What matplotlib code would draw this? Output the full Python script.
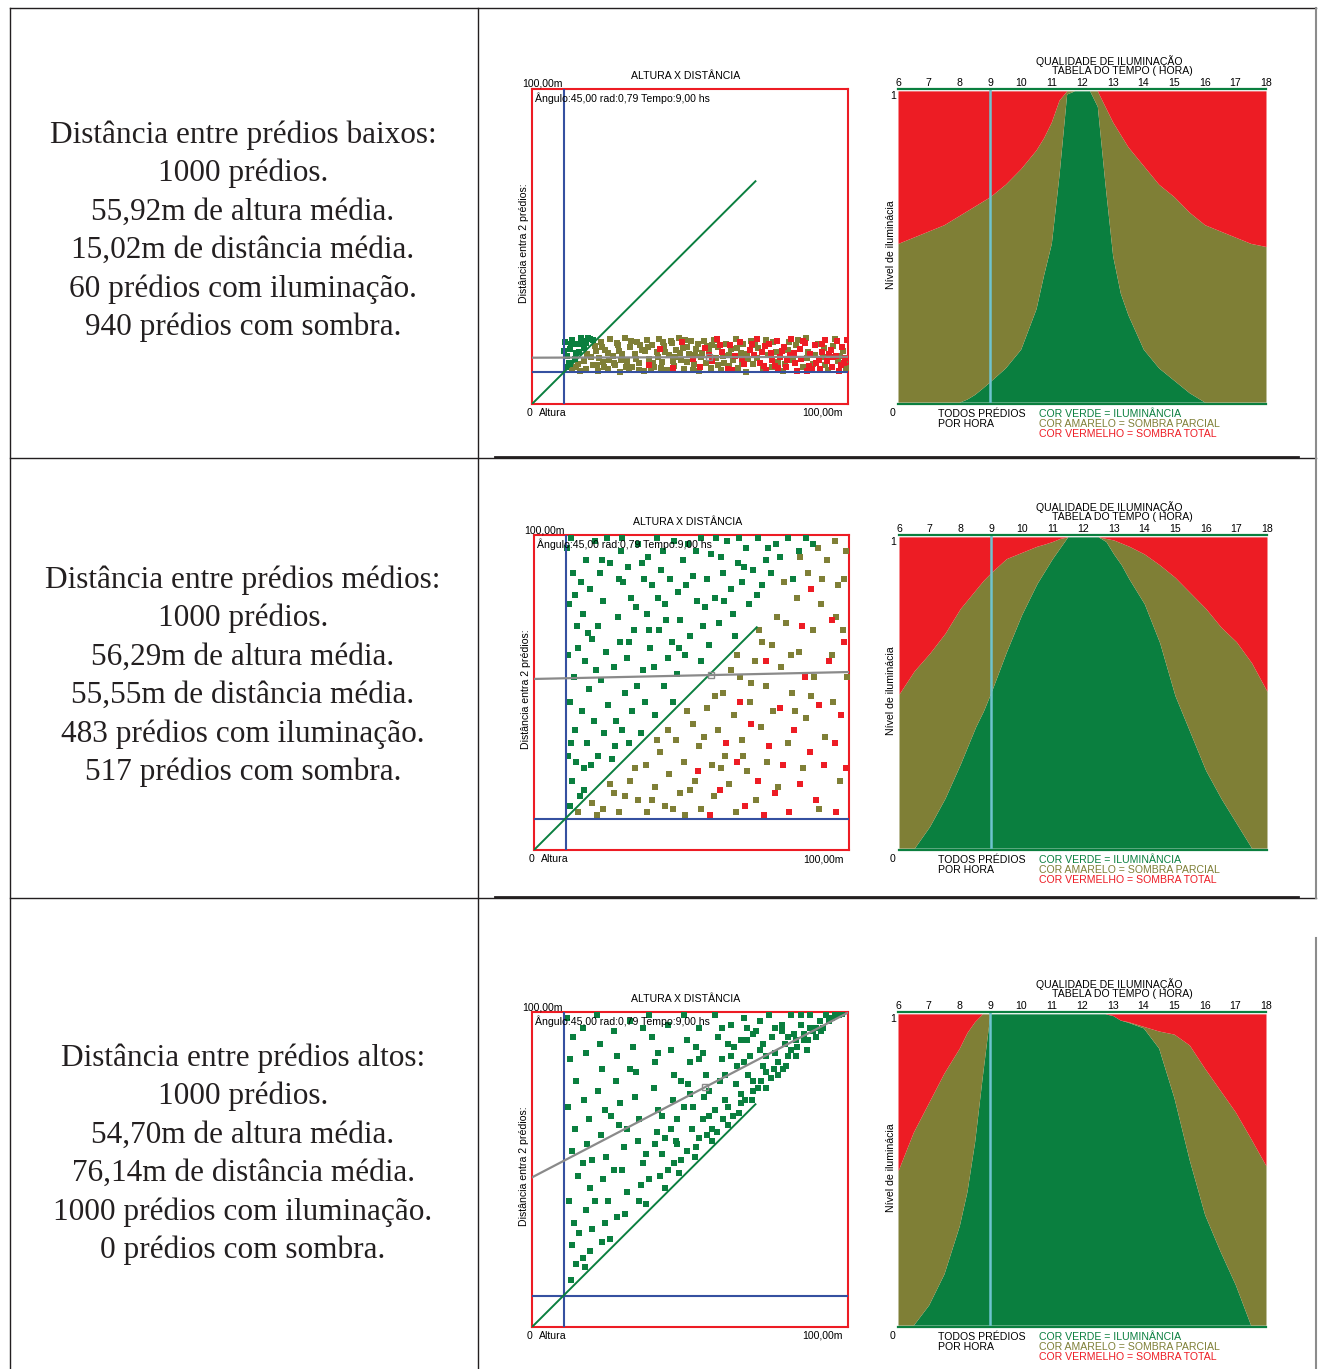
import numpy as np
import matplotlib
matplotlib.use("Agg")
import matplotlib.pyplot as plt

# ---------------------------------------------------------------- data
row_texts = [
    ["Distância entre prédios baixos:", "1000 prédios.", "55,92m de altura média.",
     "15,02m de distância média.", "60 prédios com iluminação.", "940 prédios com sombra."],
    ["Distância entre prédios médios:", "1000 prédios.", "56,29m de altura média.",
     "55,55m de distância média.", "483 prédios com iluminação.", "517 prédios com sombra."],
    ["Distância entre prédios altos:", "1000 prédios.", "54,70m de altura média.",
     "76,14m de distância média.", "1000 prédios com iluminação.", "0 prédios com sombra."],
]

mean_height = [55.92, 56.29, 54.70]
mean_dist = [15.02, 55.55, 76.14]
trend_at_0 = [14.7, 54.3, 47.5]
trend_at_100 = [15.0, 56.5, 99.8]
min_height = 10
min_dist = 10
sun_angle = 45.0

hours = [6, 6.5, 7, 7.5, 8, 8.25, 8.5, 8.75, 9, 9.5, 10, 10.5, 10.75, 11, 11.25, 11.5,
         11.75, 12, 12.25, 12.5, 12.75, 13, 13.25, 13.5, 14, 14.5, 15, 15.5, 16, 16.5,
         17, 17.5, 18]

lit_low = [0, 0, 0, 0, 0, 0.01, 0.025, 0.045, 0.066, 0.11, 0.17, 0.30, 0.41, 0.51, 0.73, 0.99,
           1, 1, 1, 0.95, 0.70, 0.47, 0.35, 0.28, 0.17, 0.11, 0.07, 0.03, 0, 0, 0, 0, 0]
part_low = [0.51, 0.53, 0.55, 0.57, 0.60, 0.615, 0.63, 0.645, 0.66, 0.70, 0.75, 0.81, 0.85,
            0.90, 0.97, 1, 1, 1, 1, 1, 0.95, 0.90, 0.86, 0.82, 0.76, 0.70, 0.66, 0.61, 0.57,
            0.55, 0.53, 0.51, 0.50]

lit_mid = [0, 0, 0.07, 0.16, 0.27, 0.33, 0.39, 0.44, 0.50, 0.63, 0.75, 0.85, 0.89, 0.93, 0.965,
           1, 1, 1, 1, 1, 0.985, 0.945, 0.91, 0.865, 0.785, 0.66, 0.49, 0.37, 0.25, 0.16,
           0.08, 0, 0]
part_mid = [0.495, 0.57, 0.626, 0.69, 0.77, 0.80, 0.83, 0.86, 0.885, 0.93, 0.95, 0.97, 0.977,
            0.985, 0.995, 1, 1, 1, 1, 1, 0.995, 0.99, 0.98, 0.97, 0.945, 0.91, 0.87, 0.82,
            0.77, 0.71, 0.663, 0.595, 0.504]

lit_high = [0, 0, 0.065, 0.165, 0.32, 0.43, 0.59, 0.80, 1, 1, 1, 1, 1, 1, 1, 1, 1, 1, 1, 1, 1,
            0.995, 0.98, 0.973, 0.955, 0.89, 0.73, 0.53, 0.355, 0.238, 0.13, 0, 0]
part_high = [0.496, 0.62, 0.715, 0.81, 0.89, 0.94, 0.975, 1, 1, 1, 1, 1, 1, 1, 1, 1, 1, 1, 1,
             1, 1, 0.995, 0.98, 0.975, 0.96, 0.945, 0.935, 0.90, 0.825, 0.755, 0.685, 0.60,
             0.512]

# buildings: (altura, distancia)
low_lit = [(10.5, 19.8), (11.2, 15.3), (12.0, 17.6), (12.8, 20.4), (13.5, 14.2), (14.1, 18.9),
           (14.9, 16.5), (15.6, 20.8), (16.3, 17.9), (17.1, 19.5), (17.8, 21.0), (11.7, 13.1),
           (10.2, 16.8), (11.9, 12.6), (15.2, 19.2), (16.8, 20.1), (18.5, 20.6), (12.4, 19.0),
           (10.8, 11.9), (13.9, 16.1), (19.3, 20.2)]
low_part = [(12.5, 10.8), (13.8, 11.9), (15.1, 10.4), (16.4, 13.6), (17.2, 11.2), (18.6, 14.8),
            (19.4, 12.3), (20.3, 16.9), (20.9, 10.6), (21.7, 19.8), (22.4, 13.4), (23.2, 17.2),
            (23.9, 11.1), (24.8, 20.5), (25.5, 15.1), (26.3, 12.4), (27.1, 18.6), (27.8, 10.3),
            (28.6, 16.0), (29.4, 20.9), (30.2, 13.7), (30.9, 18.1), (31.7, 11.6), (32.5, 15.9),
            (33.3, 19.7), (34.0, 12.9), (34.8, 17.3), (35.6, 10.5), (36.4, 20.2), (37.1, 14.4),
            (37.9, 18.8), (38.7, 11.8), (39.5, 16.6), (40.3, 20.6), (41.0, 13.2), (41.8, 18.4),
            (42.6, 10.9), (43.4, 15.4), (44.2, 19.3), (45.0, 12.0), (45.7, 17.0), (46.5, 20.8),
            (47.3, 14.1), (48.1, 11.0), (48.9, 18.2), (49.6, 15.8), (50.4, 20.1), (51.2, 12.6),
            (52.0, 17.6), (52.8, 10.4), (53.6, 14.9), (54.3, 19.9), (55.1, 13.0), (55.9, 16.8),
            (56.7, 11.3), (57.5, 20.4), (58.3, 14.6), (59.0, 18.0), (59.8, 10.7), (60.6, 15.3),
            (61.4, 19.1), (62.2, 12.2), (63.0, 17.4), (63.7, 13.9), (64.5, 20.7), (65.3, 11.5),
            (66.1, 16.2), (66.9, 18.9), (67.7, 10.3), (68.4, 14.3), (69.2, 20.0), (70.0, 12.7),
            (71.6, 17.8), (73.1, 11.0), (74.7, 15.6), (76.3, 19.6), (77.9, 13.3), (79.4, 10.5),
            (81.0, 17.1), (82.6, 14.0), (84.2, 20.3), (85.8, 11.9), (87.3, 16.4), (88.9, 12.8),
            (90.5, 19.0), (92.1, 15.0), (93.6, 10.8), (95.2, 18.3), (96.8, 13.5), (98.4, 16.9),
            (99.5, 11.4), (21.2, 14.6), (24.1, 16.2), (26.9, 19.4), (29.8, 11.9), (32.9, 14.3),
            (35.9, 16.7), (38.2, 13.0), (40.8, 11.5), (43.9, 20.0), (46.9, 16.1), (49.2, 13.3),
            (52.4, 19.0), (22.9, 11.8), (25.9, 13.0), (28.1, 14.0), (31.3, 19.9), (33.8, 10.9),
            (36.8, 18.1), (39.9, 14.9), (42.2, 16.5), (44.6, 13.8), (47.8, 17.9), (50.8, 10.9),
            (53.9, 16.2), (57.1, 18.7), (60.9, 13.1), (64.8, 17.9), (68.1, 15.9), (71.2, 14.7),
            (74.0, 20.4), (77.2, 16.6), (80.1, 12.6), (83.5, 18.7), (86.7, 20.8), (89.6, 15.6),
            (92.6, 12.3), (95.8, 20.6), (98.9, 14.1), (17.5, 16.0), (19.9, 18.3), (14.5, 12.8),
            (20.6, 12.4), (22.1, 18.0), (24.5, 13.9), (27.4, 16.9), (30.6, 11.0), (34.3, 18.6),
            (37.5, 11.2), (41.4, 19.7), (45.3, 15.0), (48.5, 20.3), (51.6, 15.5), (55.4, 18.3),
            (58.9, 12.3), (62.5, 15.6), (66.4, 12.9), (70.7, 18.8), (75.8, 11.7), (81.4, 19.6),
            (87.0, 14.7), (92.3, 17.8), (97.4, 15.2)]
low_dark = [(36.9, 12.5), (40.6, 17.6), (44.7, 11.4), (47.6, 19.6), (50.9, 14.2), (53.2, 11.9),
            (54.8, 17.9), (57.0, 13.8), (58.7, 20.5), (60.1, 16.4), (61.9, 11.1), (62.7, 18.6),
            (64.1, 15.1), (65.8, 19.8), (67.2, 12.6), (68.9, 17.0), (70.4, 15.7), (71.1, 20.6),
            (72.3, 13.1), (73.8, 18.4), (74.2, 10.9), (75.5, 16.3), (76.9, 12.2), (77.4, 20.0),
            (78.6, 14.8), (79.9, 18.1), (80.4, 11.6), (81.7, 15.4), (82.1, 20.7), (83.3, 12.9),
            (84.8, 17.5), (85.2, 14.2), (86.4, 19.3), (86.9, 10.6), (88.1, 15.9), (89.5, 18.7),
            (89.9, 13.0), (91.2, 11.2), (91.7, 16.6), (92.8, 20.2), (93.3, 13.7), (94.5, 17.2),
            (94.9, 11.7), (96.1, 15.3), (96.4, 19.9), (97.7, 12.4), (98.0, 18.0), (99.2, 14.6),
            (99.6, 20.4), (80.8, 13.9), (83.9, 10.4), (87.6, 12.1), (90.8, 14.1), (93.9, 16.0),
            (97.2, 10.5), (75.0, 19.0), (78.0, 11.4), (72.8, 16.5), (69.6, 19.1), (66.5, 14.4),
            (63.4, 10.8), (59.4, 18.8), (56.0, 15.5), (82.9, 16.3), (85.9, 20.1), (88.6, 11.0),
            (91.9, 18.9), (95.3, 14.9), (98.6, 12.9), (79.2, 16.9), (76.0, 14.0), (73.4, 12.0)]

mid_lit = [(10.5, 96), (12.3, 88), (11.0, 78), (13.8, 71), (10.8, 62), (12.6, 55), (11.4, 47),
           (13.1, 38), (10.9, 30), (12.2, 22), (14.5, 17), (15.8, 26), (16.9, 34), (15.1, 44),
           (17.6, 51), (16.2, 60), (18.4, 67), (15.7, 75), (17.9, 83), (16.5, 92), (19.3, 98),
           (20.8, 88), (21.9, 79), (20.2, 71), (22.7, 63), (21.3, 54), (23.6, 46), (22.1, 37),
           (24.8, 29), (26.1, 41), (25.4, 58), (27.3, 66), (26.6, 74), (28.2, 85), (27.5, 95),
           (29.9, 90), (30.7, 80), (31.8, 70), (29.4, 61), (32.6, 52), (31.1, 44), (33.9, 37),
           (35.2, 47), (34.5, 57), (36.8, 64), (35.9, 75), (37.6, 84), (36.2, 93), (39.1, 99),
           (40.3, 89), (41.5, 78), (39.8, 70), (42.6, 61), (41.2, 52), (44.1, 47), (45.3, 56),
           (43.7, 66), (46.5, 73), (45.8, 82), (47.2, 92), (49.0, 97), (50.4, 87), (51.7, 79),
           (49.6, 68), (52.9, 60), (53.5, 71), (54.8, 86), (56.1, 94), (57.4, 80), (58.6, 72),
           (59.9, 88), (61.2, 98), (62.5, 83), (63.1, 75), (64.7, 91), (66.0, 85), (67.3, 96),
           (68.1, 78), (69.5, 89), (71.0, 99), (72.4, 84), (73.6, 92), (75.2, 88), (76.8, 97),
           (78.1, 93), (80.5, 99), (82.3, 86), (84.0, 95), (86.2, 99), (88.5, 97), (18.9, 41),
           (14.0, 64), (24.0, 91), (33.0, 97), (44.5, 98), (38.4, 43), (28.8, 50), (11.6, 99),
           (14.9, 85), (19.8, 57), (23.3, 99), (30.1, 34), (35.0, 86), (40.9, 95), (47.9, 62),
           (55.6, 65), (60.4, 79), (65.2, 99), (70.8, 81), (11.3, 14), (13.3, 28), (16.0, 19),
           (20.4, 30), (25.8, 33), (28.0, 99), (32.4, 77), (38.0, 58), (43.1, 86), (51.3, 95),
           (57.9, 99), (63.9, 68), (12.9, 81), (17.2, 69), (21.6, 92), (26.9, 86), (30.3, 66),
           (34.2, 91), (39.5, 80), (42.0, 73), (48.3, 84), (53.1, 99), (59.3, 93), (66.8, 90),
           (74.4, 96), (11.9, 34), (18.1, 27), (27.9, 38), (36.4, 70), (46.0, 64), (54.3, 77)]
mid_part = [(14.0, 12), (18.5, 15), (22.0, 13), (25.5, 18), (27.0, 12), (30.5, 22), (33.0, 16),
            (35.5, 27), (36.0, 12), (38.5, 20), (40.0, 31), (41.5, 14), (43.0, 24), (45.0, 35),
            (46.5, 18), (47.5, 28), (48.0, 11), (50.5, 40), (51.0, 22), (52.5, 33), (53.0, 13),
            (55.0, 45), (56.5, 27), (57.0, 17), (58.5, 38), (60.0, 50), (60.5, 30), (62.0, 21),
            (63.5, 43), (64.0, 12), (65.5, 55), (66.0, 35), (67.5, 25), (68.5, 47), (70.0, 60),
            (70.5, 16), (72.0, 39), (73.5, 52), (74.0, 28), (75.5, 65), (76.0, 44), (77.5, 20),
            (78.5, 58), (80.0, 72), (80.5, 34), (82.0, 50), (83.5, 80), (84.0, 63), (85.5, 26),
            (86.5, 42), (87.0, 88), (88.5, 70), (89.0, 55), (90.5, 13), (91.0, 78), (92.5, 36),
            (93.0, 92), (94.5, 62), (95.0, 47), (96.5, 84), (97.0, 22), (98.0, 70), (99.0, 95),
            (99.5, 55), (84.5, 93), (90.0, 96), (79.5, 85), (71.5, 70), (62.5, 57), (20.0, 11),
            (29.0, 17), (32.0, 26), (39.0, 35), (44.0, 13), (49.5, 19), (54.0, 36), (59.5, 26),
            (66.5, 30), (69.0, 53), (77.0, 74), (81.5, 62), (88.0, 49), (96.0, 74), (98.5, 86),
            (24.0, 21), (37.5, 16), (42.5, 38), (48.5, 44), (57.5, 49), (64.5, 62), (72.5, 66),
            (83.0, 44), (91.5, 86), (95.5, 98)]
mid_dark = [(52.0, 25), (56.0, 11), (59.0, 19), (61.0, 34), (64.5, 28), (67.0, 14), (69.0, 40),
            (71.0, 22), (73.0, 11), (74.5, 33), (76.5, 18), (78.0, 45), (79.0, 27), (81.0, 12),
            (82.5, 38), (84.5, 21), (86.0, 55), (87.5, 31), (89.5, 16), (90.5, 46), (92.0, 27),
            (93.5, 60), (95.5, 34), (96.0, 12), (97.5, 43), (98.5, 66), (99.0, 26), (94.5, 73),
            (85.0, 71), (88.0, 83), (73.5, 60), (65.5, 47)]

high_lit = [(11, 98), (13, 92), (12, 85), (14, 78), (11.5, 70), (13.5, 63), (12.5, 56), (14.5, 48),
            (11.8, 40), (13.2, 33), (12.8, 26), (14.0, 20), (12.2, 15), (16, 95), (17, 87),
            (16.5, 72), (18, 66), (17.5, 58), (16, 52), (18.5, 44), (17, 37), (19, 31), (18.2, 24),
            (16.8, 19), (20.5, 99), (21.5, 90), (22, 82), (20.8, 75), (23, 69), (21.8, 61),
            (23.5, 54), (22.5, 47), (24, 40), (23.2, 33), (24.8, 28), (26, 94), (27, 86),
            (26.5, 78), (28, 71), (27.5, 64), (29, 57), (28.5, 50), (30, 43), (29.5, 36), (31, 97),
            (32, 89), (33, 81), (32.5, 73), (34, 66), (33.5, 59), (35, 52), (34.5, 45), (36, 39),
            (37, 99), (38, 92), (39, 84), (38.5, 76), (40, 69), (39.5, 62), (41, 55), (40.5, 48),
            (42, 44), (43, 96), (44, 88), (45, 80), (44.5, 72), (46, 66), (45.5, 59), (47, 53),
            (46.5, 49), (48, 99), (49, 91), (50, 84), (49.5, 77), (51, 70), (50.5, 63), (52, 57),
            (51.5, 54), (53, 95), (54, 87), (55, 80), (54.5, 73), (56, 67), (55.5, 61), (57, 59),
            (58, 99), (59, 92), (60, 85), (59.5, 78), (61, 72), (60.5, 66), (62, 64), (63, 96),
            (64, 89), (65, 83), (64.5, 77), (66, 71), (65.5, 68), (67, 98), (68, 91), (69, 86),
            (68.5, 80), (70, 75), (69.5, 72), (71, 94), (72, 88), (73, 83), (72.5, 78), (74, 76),
            (75, 99), (76, 92), (77, 87), (76.5, 82), (78, 80), (79, 96), (80, 90), (81, 86),
            (80.5, 83), (82, 99), (83, 93), (84, 89), (83.5, 86), (85, 96), (86, 91), (87, 88),
            (88, 99), (89, 94), (90, 92), (91, 97), (92, 95), (93, 99), (94, 97), (95, 98),
            (96, 99), (97, 99), (98, 99.5), (62, 70), (66, 74), (70, 78), (74, 81), (78, 84),
            (82, 88), (86, 93), (90, 95), (57, 63), (53, 60), (49, 56), (45, 52), (61, 80),
            (67, 84), (73, 90), (79, 94), (85, 99), (56, 75), (63, 86), (70, 93), (48, 70),
            (42, 60), (36, 55), (30, 63), (26, 50), (20, 40), (58.5, 62), (63.5, 67), (67.5, 72),
            (71.5, 76), (75.5, 79), (79.5, 82), (83.5, 91), (87.5, 91), (91.5, 94), (60, 95),
            (66, 91), (72, 97), (77, 95), (54, 66), (50, 74), (46, 58), (41, 67), (37, 47),
            (44, 63), (52, 89), (15, 30), (19, 53), (25, 67), (31, 82), (35, 95), (40, 87),
            (47, 78), (53, 85), (58, 69), (62, 90), (68, 95), (74, 86), (81, 92), (88, 95),
            (43, 50), (39, 58), (34, 40), (27, 35), (22, 27), (16, 22)]

# ---------------------------------------------------------------- style
W, H = 1320, 1369
RED = "#ED1C24"
OLIVE = "#7F7F36"
GREEN = "#0A7F3F"
BLUE = "#3550A0"
CYAN = "#6FC3CF"
GREY = "#8A8A8A"
INK = "#231F20"
SANS = "Liberation Sans"
SERIF = "Liberation Serif"
SMALL = 7.6

fig = plt.figure(figsize=(W / 100, H / 100), dpi=100)
fig.patch.set_facecolor("white")


def box(x0, y0, x1, y1):
    """pixel rectangle (top-left origin) -> figure fraction rect"""
    return [x0 / W, 1 - y1 / H, (x1 - x0) / W, (y1 - y0) / H]


def ftext(x, y, s, **kw):
    kw.setdefault("fontfamily", SANS)
    kw.setdefault("fontsize", SMALL)
    kw.setdefault("va", "center")
    fig.text(x / W, 1 - y / H, s, **kw)


# table grid drawn on a full-figure axes in pixel units
grid = fig.add_axes([0, 0, 1, 1], zorder=-5)
grid.set_xlim(0, W)
grid.set_ylim(H, 0)
grid.axis("off")
grid.plot([10, 1316], [8, 8], color=INK, lw=1)
grid.plot([10, 10], [8, H], color=INK, lw=1)
grid.plot([478, 478], [8, H], color=INK, lw=1)
for yy in [458, 898]:
    grid.plot([10, 1316], [yy, yy], color=INK, lw=1)
    grid.plot([495, 1298], [yy - 1, yy - 1], color=INK, lw=2)
grid.plot([1316, 1316], [8, 898], color="#8c8c8c", lw=1.5)
grid.plot([1316, 1316], [938, H], color="#8c8c8c", lw=1.5)

row_offsets = [0, 446, 923]
text_tops = [135, 580, 1058]
scatter_x = [(532, 848), (534, 849), (532, 848)]
area_x = [(898, 1266), (899, 1267), (898, 1266)]
lit_sets = [low_lit, mid_lit, high_lit]
part_sets = [low_part, mid_part, []]
dark_sets = [low_dark, mid_dark, []]
lit_curves = [lit_low, lit_mid, lit_high]
part_curves = [part_low, part_mid, part_high]

for r in range(3):
    off = row_offsets[r]

    # left column text
    for i, line in enumerate(row_texts[r]):
        ftext(243, text_tops[r] + i * 38.5, line, fontfamily=SERIF, fontsize=22.5,
              ha="center", color=INK)

    # ---------------- scatter: altura x distancia
    sx0, sx1 = scatter_x[r]
    ax = fig.add_axes(box(sx0, 89 + off, sx1, 404 + off))
    ax.set_xlim(0, 100)
    ax.set_ylim(0, 100)
    ax.set_xticks([])
    ax.set_yticks([])
    for sp in ax.spines.values():
        sp.set_color(RED)
        sp.set_linewidth(1.5)
    for pts, col in [(part_sets[r], OLIVE), (dark_sets[r], RED), (lit_sets[r], GREEN)]:
        if pts:
            xs, ys = zip(*pts)
            ax.scatter(xs, ys, s=15, marker="s", color=col, lw=0, zorder=3)
    ax.axvline(min_height, color=BLUE, lw=1.5, zorder=4)
    ax.axhline(min_dist, color=BLUE, lw=1.5, zorder=4)
    reach = 100 * np.sin(np.radians(sun_angle))
    ax.plot([0, reach], [0, reach], color=GREEN, lw=1.4, zorder=5)
    ax.plot([0, 100], [trend_at_0[r], trend_at_100[r]], color=GREY, lw=1.6, zorder=5)
    ax.plot([mean_height[r]], [mean_dist[r]], marker="s", ms=5, mfc="none", mec=GREY,
            mew=1, zorder=6)

    cx = (sx0 + sx1) / 2
    ftext(cx - 4, 76 + off, "ALTURA X DISTÂNCIA", ha="center")
    ftext(sx0 - 10, 84 + off, "100,00m", ha="left")
    ftext(sx0 + 3, 98 + off, "Ângulo:45,00 rad:0,79 Tempo:9,00 hs", ha="left", zorder=10)
    ftext(sx0 - 5, 413 + off, "0", ha="left")
    ftext(sx0 + 7, 413 + off, "Altura", ha="left")
    ftext(sx1 - 5, 413 + off, "100,00m", ha="right")
    ftext(sx0 - 8, 243 + off, "Distância entra 2 prédios:", ha="center", rotation=90)

    # ---------------- area: qualidade de iluminacao
    ax0, ax1 = area_x[r]
    ab = fig.add_axes(box(ax0, 89 + off, ax1, 404 + off))
    ab.fill_between(hours, 0, lit_curves[r], color=GREEN, lw=0)
    ab.fill_between(hours, lit_curves[r], part_curves[r], color=OLIVE, lw=0)
    ab.fill_between(hours, part_curves[r], 1, color=RED, lw=0)
    ab.axvline(9, color=CYAN, lw=1.8)
    ab.set_xlim(6, 18)
    ab.set_ylim(-0.006, 1.006)
    ab.set_yticks([])
    ab.xaxis.tick_top()
    ab.set_xticks(range(6, 19))
    ab.set_xticklabels([str(h) for h in range(6, 19)], fontfamily=SANS, fontsize=SMALL)
    ab.tick_params(axis="x", length=0, pad=0.5)
    for side in ["left", "right"]:
        ab.spines[side].set_visible(False)
    for side in ["top", "bottom"]:
        ab.spines[side].set_color(GREEN)
        ab.spines[side].set_linewidth(1.6)

    ftext(1109, 61 + off, "QUALIDADE DE ILUMINAÇÃO", ha="center")
    ftext(1122, 71 + off, "TABELA DO TEMPO ( HORA)", ha="center")
    ftext(893, 96 + off, "1", ha="center")
    ftext(893, 413 + off, "0", ha="center")
    ftext(891, 245 + off, "Nível de iluminácia", ha="center", rotation=90)
    ftext(938, 414 + off, "TODOS PRÉDIOS", ha="left")
    ftext(938, 424 + off, "POR HORA", ha="left")
    ftext(1039, 414 + off, "COR VERDE = ILUMINÂNCIA", ha="left", color=GREEN)
    ftext(1039, 424 + off, "COR AMARELO = SOMBRA PARCIAL", ha="left", color=OLIVE)
    ftext(1039, 434 + off, "COR VERMELHO = SOMBRA TOTAL", ha="left", color=RED)

fig.savefig("out.png", dpi=100)
